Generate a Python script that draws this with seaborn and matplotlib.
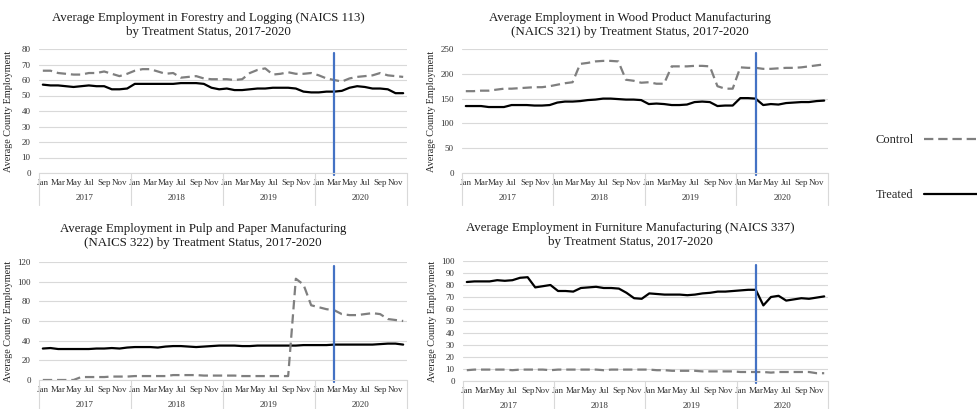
import pandas as pd
import matplotlib.pyplot as plt
import seaborn as sns
from matplotlib.lines import Line2D

sns.set_style("white")
plt.rcParams["font.family"] = ["Liberation Serif", "DejaVu Serif"]

years = ["2017", "2018", "2019", "2020"]
tick_months = ["Jan", "Mar", "May", "Jul", "Sep", "Nov"]

# Forestry and Logging (NAICS 113)
forestry_treated = [57, 56.5, 56.5, 56, 55.5, 56, 56.5, 56, 56, 54, 54, 54.5,
                    57.5, 57.5, 57.5, 57.5, 57.5, 57.5, 58, 58, 58, 57.5, 55, 54,
                    54.5, 53.5, 53.5, 54, 54.5, 54.5, 55, 55, 55, 54.5, 52.5, 52,
                    52, 52.5, 52.5, 53, 55, 56, 55.5, 54.5, 54.5, 54, 51.5, 51.5]
forestry_control = [66, 66, 64.5, 64, 63.5, 63.5, 64.5, 64.5, 65.5, 64, 62.5, 64,
                    66, 67, 67, 65.5, 64, 64.5, 61.5, 62, 62.5, 61, 60.5, 60.5,
                    60.5, 60, 60.5, 64.5, 66.5, 67.5, 63.5, 64, 65, 64, 64, 64.5,
                    63, 61, 60, 59, 61, 62, 62.5, 63, 64.5, 63, 62.5, 62]

# Wood Product Manufacturing (NAICS 321)
wood_treated = [135, 135, 135, 133, 133, 133, 137, 137, 137, 136, 136, 137,
                142, 144, 144, 145, 147, 148, 150, 150, 149, 148, 148, 147,
                139, 140, 139, 137, 137, 138, 143, 144, 143, 135, 136, 136,
                151, 151, 150, 137, 139, 138, 141, 142, 143, 143, 145, 146]
wood_control = [165, 165, 166, 166, 168, 170, 170, 171, 172, 173, 173, 175,
                178, 181, 183, 220, 222, 225, 226, 226, 225, 188, 186, 182,
                183, 180, 180, 215, 215, 215, 216, 216, 215, 175, 170, 170,
                213, 212, 212, 210, 210, 211, 212, 212, 213, 215, 217, 219]

# Pulp and Paper Manufacturing (NAICS 322)
pulp_treated = [32, 32.5, 31.5, 31.5, 31.5, 31.5, 31.5, 32, 32, 32.5, 32, 33,
                33.5, 33.5, 33.5, 33, 34, 34.5, 34.5, 34, 33.5, 34, 34.5, 35,
                35, 35, 34.5, 34.5, 35, 35, 35, 35, 35, 35, 35.5, 35.5,
                35.5, 35.5, 36, 36, 36, 36, 36, 36, 36.5, 37, 37, 36]
pulp_control = [0, 0, 0, 0, 0, 3, 3, 3, 3, 3.5, 3.5, 3.5,
                4, 4, 4, 4, 4, 5, 5, 5, 5, 4.5, 4.5, 4.5,
                4.5, 4.5, 4, 4, 4, 4, 4, 4, 4, 103, 97, 76,
                74, 72, 71, 67, 66, 66, 67, 68, 67, 62, 61, 60]

# Furniture Manufacturing (NAICS 337)
furniture_treated = [82.5, 83, 83, 83, 84, 83.5, 84, 86, 86.5, 78, 79, 80,
                     75, 75, 74.5, 77.5, 78, 78.5, 77.5, 77.5, 77, 73.5, 69, 68.5,
                     73, 72.5, 72, 72, 72, 71.5, 72, 73, 73.5, 74.5, 74.5, 75,
                     75.5, 76, 76, 63, 70, 71, 67, 68, 69, 68.5, 69.5, 70.5]
furniture_control = [9, 9.5, 9.5, 9.5, 9.5, 9.5, 9, 9.5, 9.5, 9.5, 9.5, 9,
                     9.5, 9.5, 9.5, 9.5, 9.5, 9.5, 9, 9.5, 9.5, 9.5, 9.5, 9.5,
                     9.5, 9, 9, 8.5, 8.5, 8.5, 8.5, 8, 8, 8, 8, 8,
                     7.5, 7.5, 7.5, 7.5, 7, 7.5, 7.5, 7.5, 7.5, 7.5, 6.5, 6.5]

treat_month = 38  # Mar 2020

W, H = 978, 409
fig = plt.figure(figsize=(W / 100, H / 100), dpi=100)

panels = [
    ("Average Employment in Forestry and Logging (NAICS 113)\nby Treatment Status, 2017-2020",
     forestry_treated, forestry_control, 80, 10, (39, 49, 368, 124), (208, 25)),
    ("Average Employment in Wood Product Manufacturing\n(NAICS 321) by Treatment Status, 2017-2020",
     wood_treated, wood_control, 250, 50, (462, 49, 366, 124), (630, 25)),
    ("Average Employment in Pulp and Paper Manufacturing\n(NAICS 322) by Treatment Status, 2017-2020",
     pulp_treated, pulp_control, 120, 20, (39, 262, 368, 118), (203, 236)),
    ("Average Employment in Furniture Manufacturing (NAICS 337)\nby Treatment Status, 2017-2020",
     furniture_treated, furniture_control, 100, 10, (463, 261, 365, 120), (630, 235)),
]

colors = {"Treated": "black", "Control": "#7f7f7f"}
dashes = {"Treated": "", "Control": (4.2, 2.2)}

for title, treated, control, ymax, step, (px, py, pw, ph), (tx, ty) in panels:
    ax = fig.add_axes([px / W, (H - py - ph) / H, pw / W, ph / H])
    n = len(treated)
    df = pd.DataFrame({
        "month": list(range(n)) * 2,
        "value": treated + control,
        "Status": ["Treated"] * n + ["Control"] * n,
    })
    sns.lineplot(data=df, x="month", y="value", hue="Status", style="Status",
                 palette=colors, dashes=dashes, linewidth=1.6, legend=False, ax=ax)
    ax.axvline(treat_month, ymin=-0.015, ymax=0.97, color="#4472C4", lw=1.6, clip_on=False)

    ax.set_xlim(-0.5, n - 0.5)
    ax.set_ylim(0, ymax)
    ax.set_yticks(range(0, ymax + 1, step))
    ax.grid(axis="y", color="#d9d9d9", lw=0.8)
    ax.set_axisbelow(True)
    for s in ["top", "right", "left"]:
        ax.spines[s].set_visible(False)
    ax.spines["bottom"].set_color("#d9d9d9")
    ax.spines["bottom"].set_linewidth(0.8)

    ax.set_xticks(range(0, n, 2))
    ax.set_xticklabels(tick_months * len(years))
    ax.tick_params(axis="both", length=0, labelsize=6.5, colors="#333333")
    ax.tick_params(axis="x", pad=4)
    ax.tick_params(axis="y", pad=6)
    ax.set_xlabel("")
    ax.set_ylabel("Average County Employment", fontsize=7.3)
    ax.yaxis.set_label_coords(-26 / pw, 0.5)

    # year groups under the month labels
    sep = -32 / ph
    for i, yr in enumerate(years):
        ax.text(i * 12 + 5.5, -25 / ph, yr, transform=ax.get_xaxis_transform(),
                ha="center", va="center", fontsize=6.5, color="#333333")
    for b in range(len(years) + 1):
        ax.add_line(Line2D([b * 12 - 0.5] * 2, [0, sep], transform=ax.get_xaxis_transform(),
                           color="#d9d9d9", lw=0.8, clip_on=False))

    fig.text(tx / W, 1 - ty / H, title, ha="center", va="center",
             fontsize=9.3, linespacing=1.3, color="#1a1a1a")

handles = [Line2D([], [], color=colors["Control"], lw=1.6, dashes=dashes["Control"]),
           Line2D([], [], color=colors["Treated"], lw=1.6)]
fig.legend(handles, ["Control", "Treated"], loc="upper left",
           bbox_to_anchor=(869 / W, 1 - 128 / H), frameon=False, markerfirst=False,
           fontsize=9, handlelength=5, handletextpad=0.8, labelspacing=3.45, borderpad=0)

fig.savefig("out.png", dpi=100)
